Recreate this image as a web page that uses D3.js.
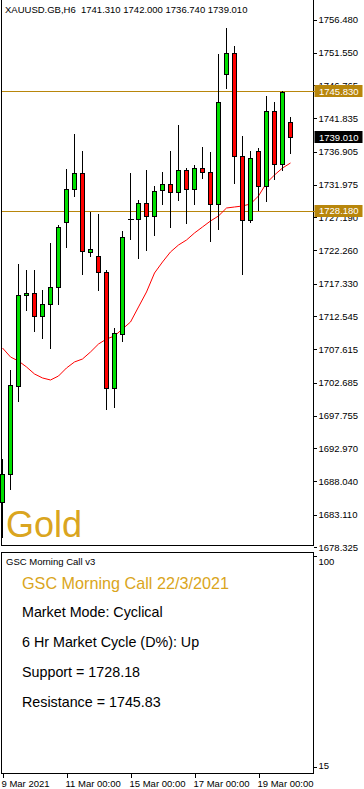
<!DOCTYPE html>
<html lang="en">
<head>
    <meta charset="UTF-8">
    <title>XAUUSD H6 - GSC Morning Call</title>
    <script src="https://cdnjs.cloudflare.com/ajax/libs/d3/7.8.5/d3.min.js"></script>
    <style>
        body { margin: 0; background: #fff; overflow: hidden; }
        svg { display: block; font-family: "Liberation Sans", Arial, sans-serif; }
        .axis text { font-size: 9.5px; fill: #000; }
        .axis path { display: none; }
        .axis line { stroke: #000; shape-rendering: crispEdges; }
    </style>
</head>
<body>
<div id="chart"></div>
<script>
    // Chart data (6-hour bars, XAUUSD)
    const opens  = [1684.99, 1689.14, 1702.18, 1715.66, 1715.96, 1712.55, 1714.33, 1716.85, 1726.48, 1731.37, 1733.74, 1722.04, 1721.44, 1719.07, 1701.88, 1709.88, 1726.92, 1726.92, 1729.30, 1727.37, 1731.22, 1732.11, 1730.93, 1734.19, 1731.37, 1734.48, 1733.89, 1729.15, 1748.41, 1751.52, 1736.26, 1726.78, 1737.00, 1731.81, 1742.93, 1735.07, 1741.31];
    const highs  = [1691.36, 1704.55, 1720.26, 1719.37, 1719.37, 1716.40, 1723.37, 1726.04, 1734.33, 1739.52, 1737.00, 1727.96, 1727.67, 1719.37, 1710.77, 1725.15, 1733.74, 1729.74, 1734.19, 1731.81, 1733.89, 1737.00, 1740.86, 1734.48, 1734.93, 1737.59, 1736.85, 1751.37, 1755.22, 1752.56, 1739.22, 1737.00, 1737.44, 1745.15, 1744.26, 1745.83, 1742.00];
    const lows   = [1679.81, 1686.92, 1699.96, 1713.44, 1710.33, 1709.29, 1707.81, 1714.33, 1722.78, 1730.33, 1718.78, 1721.44, 1716.40, 1698.77, 1699.07, 1708.85, 1723.96, 1721.15, 1722.33, 1724.55, 1729.15, 1725.74, 1729.74, 1726.33, 1729.15, 1733.00, 1723.67, 1725.44, 1746.33, 1732.26, 1718.78, 1726.48, 1728.26, 1729.59, 1732.85, 1734.19, 1736.74];
    const closes = [1689.14, 1702.33, 1715.66, 1715.96, 1712.55, 1714.33, 1716.85, 1725.74, 1731.37, 1733.74, 1722.18, 1722.48, 1719.07, 1701.88, 1710.03, 1724.26, 1726.92, 1729.30, 1727.37, 1731.07, 1732.11, 1730.93, 1734.19, 1731.37, 1734.48, 1733.89, 1729.15, 1744.26, 1751.52, 1736.26, 1726.78, 1735.96, 1731.81, 1742.93, 1735.07, 1745.74, 1739.01];
    // moving average (red line)
    const maValues = [1707.81, 1706.48, 1705.88, 1705.00, 1703.96, 1703.37, 1703.07, 1703.66, 1704.85, 1705.74, 1706.18, 1707.22, 1708.40, 1709.14, 1709.59, 1710.63, 1711.66, 1713.89, 1716.11, 1718.92, 1720.55, 1722.04, 1723.07, 1723.81, 1724.85, 1725.74, 1726.63, 1727.37, 1728.55, 1728.70, 1728.85, 1729.15, 1730.33, 1732.26, 1733.44, 1734.48, 1735.22];

    const priceTicks = [1756.480, 1751.550, 1746.765, 1741.835, 1736.905, 1731.975, 1727.190, 1722.260, 1717.330, 1712.545, 1707.615, 1702.685, 1697.755, 1692.970, 1688.040, 1683.110, 1678.325];
    const timeTickIdx = [0, 8, 16, 24, 32];
    const timeLabels = ["9 Mar 2021", "11 Mar 00:00", "15 Mar 00:00", "17 Mar 00:00", "19 Mar 00:00"];

    const support = 1728.18;
    const resistance = 1745.83;
    const lastPrice = 1739.01;
    const header = "XAUUSD.GB,H6  1741.310 1742.000 1736.740 1739.010";

    const subTicks = [100, 15];
    const subTitle = "GSC Morning Call v3";
    const callDate = "GSC Morning Call 22/3/2021";
    const callLines = ["Market Mode: Cyclical", "6 Hr Market Cycle (D%): Up", "Support = 1728.18", "Resistance = 1745.83"];

    // Layout
    const width = 364, height = 789;
    const plotRight = 313.5, plotLeft = 1.5;
    const mainBottom = 545.5;
    const subTop = 552.5, subBottom = 773.5;
    const gold = "#B8860B";
    const bull = "#00e000", bear = "#ff0000";

    const svg = d3.select("#chart").append("svg")
        .attr("width", width)
        .attr("height", height);

    const x = d3.scaleLinear().domain([0, 36]).range([2.5, 290.5]);
    const y = d3.scaleLinear().domain([1678.325, 1756.48]).range([547, 19.5]);
    const py = v => Math.round(y(v)) + 0.5;

    // frames
    const frame = svg.append("g").attr("stroke", "#000").attr("shape-rendering", "crispEdges").attr("fill", "none");
    frame.append("line").attr("x1", plotLeft).attr("x2", plotLeft).attr("y1", 0).attr("y2", mainBottom);
    frame.append("line").attr("x1", plotLeft).attr("x2", plotRight).attr("y1", mainBottom).attr("y2", mainBottom);
    frame.append("line").attr("x1", plotRight).attr("x2", plotRight).attr("y1", 0).attr("y2", mainBottom);
    frame.append("rect").attr("x", plotLeft).attr("y", subTop)
        .attr("width", plotRight - plotLeft).attr("height", subBottom - subTop);

    // price axis
    svg.append("g")
        .attr("class", "axis")
        .attr("transform", `translate(${plotRight},0)`)
        .call(d3.axisRight(y).tickValues(priceTicks).tickFormat(d3.format(".3f")).tickSize(3).tickPadding(2));

    // support / resistance lines
    [resistance, support].forEach(v => {
        svg.append("line")
            .attr("x1", plotLeft).attr("x2", plotRight + 1)
            .attr("y1", py(v)).attr("y2", py(v))
            .attr("stroke", gold).attr("shape-rendering", "crispEdges");
    });

    // moving average
    const maLine = d3.line().x((d, i) => x(i)).y(d => y(d));
    svg.append("path")
        .datum(maValues)
        .attr("d", maLine)
        .attr("fill", "none")
        .attr("stroke", "#ff0000")
        .attr("stroke-width", 1);

    // candles
    const bars = d3.range(opens.length).map(i => ({
        i, o: opens[i], h: highs[i], l: lows[i], c: closes[i]
    }));
    const cg = svg.append("g").attr("shape-rendering", "crispEdges");
    cg.selectAll(".wick").data(bars).enter().append("line")
        .attr("x1", d => x(d.i)).attr("x2", d => x(d.i))
        .attr("y1", d => Math.round(y(d.h))).attr("y2", d => Math.round(y(d.l)) + 1)
        .attr("stroke", "#000");
    cg.selectAll(".body").data(bars.filter(d => d.o !== d.c)).enter().append("rect")
        .attr("x", d => x(d.i) - 2)
        .attr("width", 4)
        .attr("y", d => py(Math.max(d.o, d.c)))
        .attr("height", d => Math.max(1, py(Math.min(d.o, d.c)) - py(Math.max(d.o, d.c))))
        .attr("fill", d => d.c > d.o ? bull : bear)
        .attr("stroke", "#000");
    cg.selectAll(".doji").data(bars.filter(d => d.o === d.c)).enter().append("line")
        .attr("x1", d => x(d.i) - 3).attr("x2", d => x(d.i) + 3)
        .attr("y1", d => py(d.o)).attr("y2", d => py(d.o))
        .attr("stroke", "#000");

    // price tags
    const tags = [
        { v: resistance, bg: gold, fg: "#fff" },
        { v: lastPrice, bg: "#000", fg: "#fff" },
        { v: support, bg: gold, fg: "#fff" }
    ];
    const tg = svg.append("g");
    tags.forEach(t => {
        tg.append("rect")
            .attr("x", plotRight + 1).attr("y", Math.round(y(t.v)) - 6)
            .attr("width", 48).attr("height", 12)
            .attr("fill", t.bg);
        tg.append("text")
            .attr("x", plotRight + 5.5).attr("y", y(t.v)).attr("dy", "0.35em")
            .attr("font-size", "9.5px").attr("fill", t.fg)
            .text(d3.format(".3f")(t.v));
    });

    // header and symbol label
    svg.append("text")
        .attr("x", 5).attr("y", 13)
        .attr("font-size", "9.5px")
        .style("white-space", "pre")
        .text(header);
    svg.append("text")
        .attr("x", 6).attr("y", 537)
        .attr("font-size", "36px")
        .attr("fill", "#DAA520")
        .text("Gold");

    // indicator sub-window
    const ys = d3.scaleLinear().domain([15, 100]).range([767, 556]);
    svg.append("g")
        .attr("class", "axis")
        .attr("transform", `translate(${plotRight},0)`)
        .call(d3.axisRight(ys).tickValues(subTicks).tickSize(3).tickPadding(2))
        .selectAll("text").attr("dy", d => d === 100 ? "0.9em" : "0.2em");

    svg.append("text")
        .attr("x", 6).attr("y", 565)
        .attr("font-size", "9.5px")
        .text(subTitle);
    svg.append("text")
        .attr("x", 22).attr("y", 589)
        .attr("font-size", "16.2px")
        .attr("fill", "#DAA520")
        .text(callDate);
    svg.selectAll(".call-line").data(callLines).enter().append("text")
        .attr("x", 22).attr("y", (d, i) => 617 + i * 30)
        .attr("font-size", "14.3px")
        .attr("fill", "#000")
        .text(d => d);

    // time axis
    const tAxis = svg.append("g")
        .attr("class", "axis")
        .attr("transform", `translate(0,${subBottom})`)
        .call(d3.axisBottom(x).tickValues(timeTickIdx)
            .tickFormat((d, i) => timeLabels[i]).tickSize(4).tickPadding(2));
    tAxis.selectAll("text").attr("text-anchor", "start").attr("dx", "-1.5px").attr("dy", "0.75em");
</script>
</body>
</html>
